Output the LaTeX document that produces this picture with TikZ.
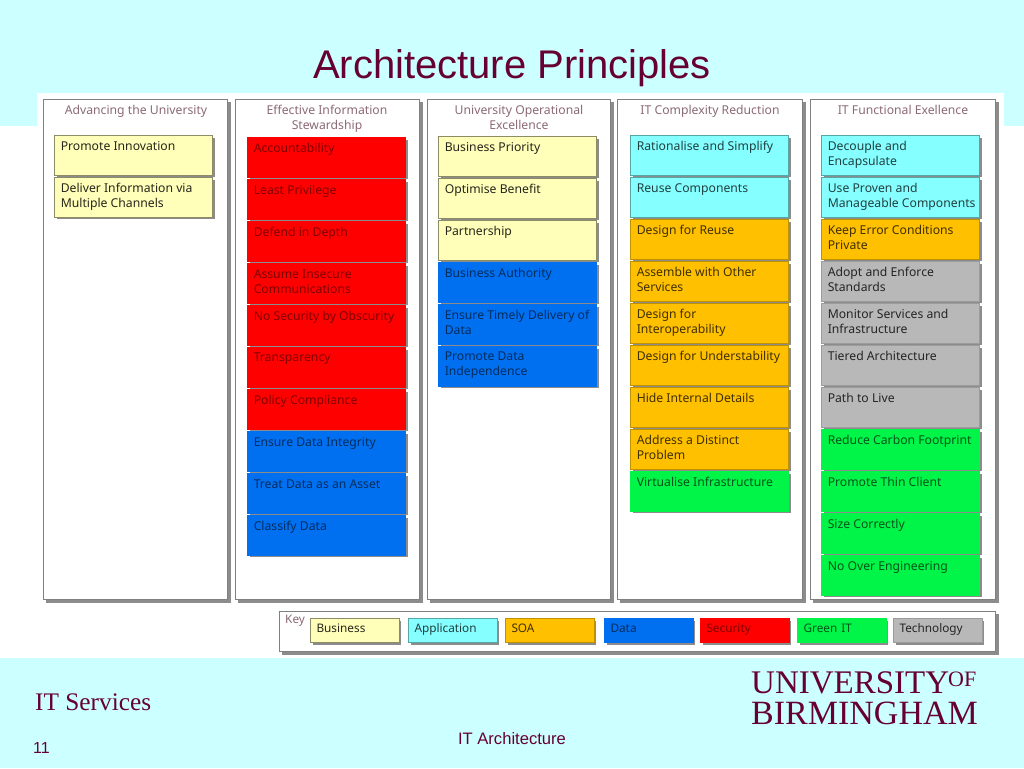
\documentclass[tikz,border=0pt]{standalone}
\usepackage{fontspec}
\setmainfont{Liberation Sans}
\newfontfamily\boxfont{Noto Sans}
\newfontfamily\seriffont{Liberation Serif}
\definecolor{bgc}{HTML}{CCFFFF}
\definecolor{maroon}{HTML}{660033}
\definecolor{headc}{HTML}{8C6A78}
\definecolor{ybg}{HTML}{FFFFB9}
\definecolor{cbg}{HTML}{85FFFF}
\definecolor{obg}{HTML}{FFC000}
\definecolor{dbg}{HTML}{0070F0}
\definecolor{rbg}{HTML}{FF0000}
\definecolor{gbg}{HTML}{00F548}
\definecolor{tbg}{HTML}{B8B8B8}
\tikzset{
  x=1pt,y=-1pt,
  base/.style={anchor=north west,inner sep=0pt,line width=.5pt,font=\boxfont\fontsize{12.2}{15}\selectfont},
  biz/.style={base,draw=black!45!ybg,fill=ybg,text=black!85!ybg},
  app/.style={base,draw=black!35!cbg,fill=cbg,text=black!75!cbg},
  soa/.style={base,draw=black!25!obg,fill=obg,text=black!75!obg},
  dat/.style={base,draw=dbg,fill=dbg,text=black!60!dbg},
  sec/.style={base,draw=rbg,fill=rbg,text=black!50!rbg},
  grn/.style={base,draw=gbg,fill=gbg,text=black!65!gbg},
  tec/.style={base,draw=black!15!tbg,fill=tbg,text=black!80!tbg},
  headlabel/.style={font=\boxfont\fontsize{12.2}{15}\selectfont,text=headc,align=center,inner sep=0pt,anchor=north},
  plain/.style={anchor=base west,inner sep=0pt,text=maroon},
}
% name, x, y, style, text
\newcommand{\bx}[5]{%
  \fill[black!45] (#2+2.5,#3+2.5) rectangle (#2+160.5,#3+41.5);
  \node[#4] (#1) at (#2,#3) {\parbox[t][39.5pt][t]{158pt}{\vspace{6pt}\hspace*{6.5pt}\parbox[t]{150pt}{\raggedright #5}}};}
% name, x0, y0, x1, y1
\newcommand{\pn}[5]{%
  \fill[black!45] (#2+3,#3+3) rectangle (#4+3,#5+3);
  \node[draw=black!50,line width=.7pt,fill=white,inner sep=0pt,anchor=north west,minimum width=#4pt-#2pt-.7pt,minimum height=#5pt-#3pt-.7pt] (#1) at (#2,#3) {};}
% name, x, style, text
\newcommand{\ky}[4]{%
  \fill[black!45] (#2+2.5,620.5) rectangle (#2+91,644.5);
  \node[#3,minimum width=88.5pt,minimum height=24pt,anchor=west,text width=76pt,inner xsep=6pt,align=left,font=\boxfont\fontsize{11.8}{13}\selectfont] (#1) at (#2,630) {\raisebox{-1pt}{\strut #4}};}
\begin{document}
\begin{tikzpicture}
\useasboundingbox (0,0) rectangle (1024,768);
\fill[bgc] (0,0) rectangle (1024,768);
\fill[white] (0,126) rectangle (1024,658);
\fill[white] (37,93) rectangle (1004,126);
\node[anchor=base,font=\fontsize{40}{42}\selectfont,text=maroon,inner sep=0pt] (title) at (512,78) {Architecture Principles};

\pn{p1}{43}{99}{228}{600}
\pn{p2}{235}{99}{420}{600}
\pn{p3}{427}{99}{611}{600}
\pn{p4}{617}{99}{803}{600}
\pn{p5}{810}{99}{996}{600}
\pn{pk}{279}{611}{996}{652}

\node[headlabel] (h1) at (136,105) {Advancing the University};
\node[headlabel] (h2) at (327,105) {Effective Information\\Stewardship};
\node[headlabel] (h3) at (519,105) {University Operational\\Excellence};
\node[headlabel] (h4) at (710,105) {IT Complexity Reduction};
\node[headlabel] (h5) at (903,105) {IT Functional Exellence};

\bx{a1}{54}{135}{biz}{Promote Innovation}
\bx{a2}{54}{177}{biz}{Deliver Information via\\Multiple Channels}

\bx{b1}{247}{137}{sec}{Accountability}
\bx{b2}{247}{179}{sec}{Least Privilege}
\bx{b3}{247}{221}{sec}{Defend in Depth}
\bx{b4}{247}{263}{sec}{Assume Insecure\\Communications}
\bx{b5}{247}{305}{sec}{No Security by Obscurity}
\bx{b6}{247}{347}{sec}{Transparency}
\bx{b7}{247}{389}{sec}{Policy Compliance}
\bx{b8}{247}{431}{dat}{Ensure Data Integrity}
\bx{b9}{247}{473}{dat}{Treat Data as an Asset}
\bx{b10}{247}{515}{dat}{Classify Data}

\bx{c1}{438}{136}{biz}{Business Priority}
\bx{c2}{438}{178}{biz}{Optimise Benefit}
\bx{c3}{438}{220}{biz}{Partnership}
\bx{c4}{438}{262}{dat}{Business Authority}
\bx{c5}{438}{304}{dat}{Ensure Timely Delivery of\\Data}
\bx{c6}{438}{346}{dat}{Promote Data\\Independence}

\bx{d1}{630}{135}{app}{Rationalise and Simplify}
\bx{d2}{630}{177}{app}{Reuse Components}
\bx{d3}{630}{219}{soa}{Design for Reuse}
\bx{d4}{630}{261}{soa}{Assemble with Other\\Services}
\bx{d5}{630}{303}{soa}{Design for\\Interoperability}
\bx{d6}{630}{345}{soa}{Design for Understability}
\bx{d7}{630}{387}{soa}{Hide Internal Details}
\bx{d8}{630}{429}{soa}{Address a Distinct\\Problem}
\bx{d9}{630}{471}{grn}{Virtualise Infrastructure}

\bx{e1}{821}{135}{app}{Decouple and\\Encapsulate}
\bx{e2}{821}{177}{app}{Use Proven and\\Manageable Components}
\bx{e3}{821}{219}{soa}{Keep Error Conditions\\Private}
\bx{e4}{821}{261}{tec}{Adopt and Enforce\\Standards}
\bx{e5}{821}{303}{tec}{Monitor Services and\\Infrastructure}
\bx{e6}{821}{345}{tec}{Tiered Architecture}
\bx{e7}{821}{387}{tec}{Path to Live}
\bx{e8}{821}{429}{grn}{Reduce Carbon Footprint}
\bx{e9}{821}{471}{grn}{Promote Thin Client}
\bx{e10}{821}{513}{grn}{Size Correctly}
\bx{e11}{821}{555}{grn}{No Over Engineering}

\node[anchor=north west,inner sep=0pt,font=\boxfont\fontsize{11.8}{13}\selectfont,text=headc] (keyt) at (285,615) {Key};
\ky{k1}{310}{biz}{Business}
\ky{k2}{408}{app}{Application}
\ky{k3}{505}{soa}{SOA}
\ky{k4}{604}{dat}{Data}
\ky{k5}{700}{sec}{Security}
\ky{k6}{797}{grn}{Green IT}
\ky{k7}{893}{tec}{Technology}

\node[plain,font=\seriffont\fontsize{25.3}{27}\selectfont] (svc) at (35,710) {IT Services};
\node[plain,font=\fontsize{16}{18}\selectfont] (num) at (33,753) {11};
\node[anchor=base,inner sep=0pt,text=maroon,font=\fontsize{16.6}{18}\selectfont] (foot) at (512,744) {IT Architecture};
\node[plain,font=\seriffont\fontsize{33}{34}\selectfont] (u1) at (751,693) {UNIVERSITY};
\node[plain,font=\seriffont\fontsize{22}{23}\selectfont] (u2) at (948,686) {OF};
\node[plain,font=\seriffont\fontsize{34}{35}\selectfont] (u3) at (751,724) {BIRMINGHAM};
\end{tikzpicture}
\end{document}
